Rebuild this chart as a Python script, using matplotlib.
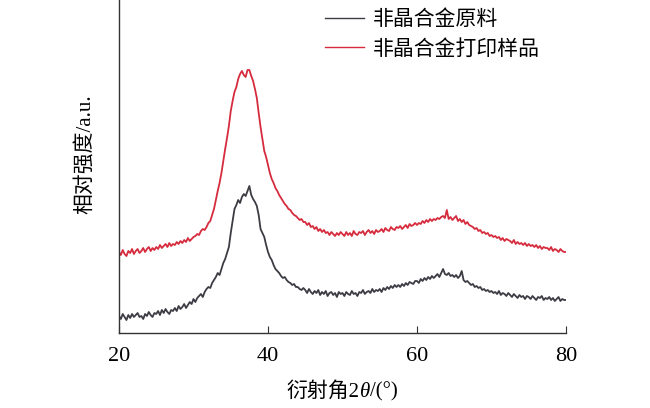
import matplotlib
matplotlib.use("Agg")
import matplotlib.pyplot as plt
from matplotlib.offsetbox import TextArea, HPacker, AnchoredOffsetbox
import numpy as np

plt.rcParams['font.family'] = ['Liberation Serif', 'Noto Sans CJK SC']

# 2theta grid, 0.25 deg steps
two_theta = np.arange(20, 80.001, 0.25)

# 非晶合金原料 (arbitrary units), one row = 2.5 deg
raw = [17, 14, 19, 16, 13, 18, 15, 19, 16, 18,
       20, 16, 17, 14, 19, 17, 21, 18, 16, 20,
       19, 22, 18, 23, 20, 24, 21, 19, 23, 22,
       25, 22, 27, 24, 26, 29, 25, 28, 31, 29,
       34, 31, 35, 37, 39, 36, 41, 44, 46, 45,
       50, 53, 56, 60, 58, 64, 70, 74, 80, 86,
       100, 112, 124, 128, 133, 130, 136, 139, 137, 142,
       147, 138, 134, 131, 127, 118, 104, 100, 96, 88,
       81, 76, 73, 68, 64, 62, 60, 57, 55, 56,
       53, 51, 50, 48, 49, 46, 46, 44, 43, 45,
       43, 40, 44, 41, 39, 42, 40, 43, 38, 41,
       39, 42, 37, 40, 41, 38, 40, 36, 41, 39,
       40, 37, 41, 39, 38, 42, 39, 40, 37, 41,
       40, 43, 39, 41, 42, 40, 44, 41, 43, 42,
       44, 41, 45, 43, 46, 44, 47, 45, 48, 46,
       48, 46, 49, 47, 50, 48, 51, 50, 49, 52,
       52, 50, 54, 52, 55, 53, 56, 54, 57, 55,
       57, 59, 56, 60, 64, 59, 58, 60, 57, 58,
       56, 58, 55, 57, 62, 53, 51, 52, 50, 48,
       49, 46, 47, 45, 46, 43, 44, 42, 43, 41,
       42, 40, 41, 39, 42, 38, 40, 39, 37, 40,
       38, 36, 39, 37, 35, 38, 36, 37, 34, 37,
       36, 34, 37, 35, 33, 36, 35, 37, 33, 35,
       34, 36, 33, 35, 32, 34, 36, 32, 34, 33,
       33]

# 非晶合金打印样品
printed = [81, 78, 83, 79, 77, 82, 80, 84, 79, 82,
           84, 80, 82, 85, 81, 84, 86, 82, 85, 83,
           86, 84, 88, 85, 87, 89, 86, 90, 87, 89,
           88, 91, 89, 92, 90, 93, 91, 95, 92, 94,
           96, 97, 99, 98, 102, 104, 103, 106, 110, 112,
           118, 124, 133, 142, 150, 160, 172, 184, 195, 207,
           222, 232, 241, 246, 254, 259, 262, 258, 256, 263,
           263, 257, 252, 244, 235, 220, 206, 194, 182, 176,
           168, 160, 154, 150, 145, 142, 138, 135, 132, 129,
           127, 124, 123, 120, 118, 117, 115, 113, 114, 111,
           111, 108, 110, 106, 107, 104, 106, 102, 104, 101,
           103, 100, 101, 98, 101, 99, 97, 100, 98, 101,
           99, 97, 101, 98, 100, 97, 102, 99, 98, 101,
           100, 102, 98, 101, 103, 100, 102, 99, 103, 101,
           102, 104, 101, 105, 103, 102, 106, 104, 103, 106,
           105, 107, 104, 106, 108, 105, 109, 107, 108, 110,
           108, 110, 109, 112, 110, 113, 111, 114, 112, 114,
           113, 115, 114, 116, 117, 115, 123, 114, 116, 113,
           115, 117, 112, 114, 111, 113, 109, 111, 108, 107,
           106, 104, 105, 102, 103, 100, 101, 99, 100, 97,
           98, 96, 97, 95, 96, 93, 95, 92, 94, 93,
           92, 90, 93, 89, 91, 89, 90, 88, 90, 87,
           89, 87, 88, 86, 88, 85, 87, 84, 86, 85,
           85, 83, 86, 82, 84, 83, 81, 84, 82, 81,
           81]

labels = ['非晶合金原料', '非晶合金打印样品']
colors = ['#3c3c44', '#d62b3d']

fig = plt.figure(figsize=(6.5, 4.08), dpi=100)
ax = fig.add_axes([119/650, 1 - 333/408, (566-119)/650, 333/408])

ax.plot(two_theta, raw, color=colors[0], lw=1.3, label=labels[0])
ax.plot(two_theta, printed, color=colors[1], lw=1.3, label=labels[1])

ax.set_xlim(20, 80)
ax.set_ylim(0, 333)
ax.set_xticks([20, 40, 60, 80])
ax.set_yticks([])
ax.spines['top'].set_visible(False)
ax.spines['right'].set_visible(False)
for s in ['left', 'bottom']:
    ax.spines[s].set_color('#333333')
    ax.spines[s].set_linewidth(1.0)
ax.tick_params(axis='x', direction='in', length=5, labelsize=16, pad=10, color='#333333')

ax.set_ylabel('相对强度/a.u.', fontsize=15)
ax.yaxis.set_label_coords(-0.054, 0.537)

# x label: 衍射角2θ/(°) with italic theta
parts = [TextArea('衍射角2', textprops=dict(fontsize=15)),
         TextArea('θ', textprops=dict(fontsize=15, style='italic')),
         TextArea('/(°)', textprops=dict(fontsize=15))]
xlab = HPacker(children=parts, align='baseline', pad=0, sep=0)
fig.add_artist(AnchoredOffsetbox(loc='center', child=xlab, frameon=False, borderpad=0, pad=0,
                                 bbox_to_anchor=(342/650, 1 - 392/408),
                                 bbox_transform=fig.transFigure))

leg = ax.legend(loc='upper left', bbox_to_anchor=(306/650, 1.02), bbox_transform=fig.transFigure,
                frameon=False, fontsize=15, handlelength=1.9, handletextpad=0.4, labelspacing=0.45)
for h in leg.get_lines():
    h.set_linewidth(1.0)

fig.savefig('out.png', dpi=100)
